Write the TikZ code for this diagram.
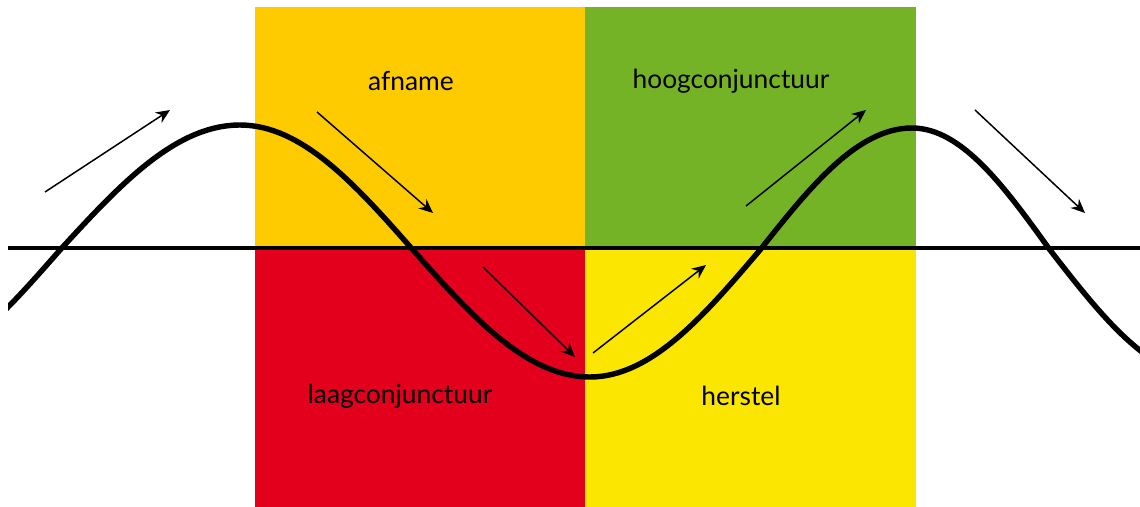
\documentclass[tikz,border=0pt]{standalone}
\usepackage{fontspec}
\setmainfont{Lato}
\usetikzlibrary{arrows.meta}

\definecolor{afnamecol}{HTML}{FDCB00}
\definecolor{hoogcol}{HTML}{74B325}
\definecolor{laagcol}{HTML}{E2001D}
\definecolor{herstelcol}{HTML}{FAE600}

\begin{document}
\begin{tikzpicture}[
        x=0.02cm, y=-0.02cm, % one unit is one pixel
        ->, % Arrow style
        >={Stealth[length=8pt,width=7pt]}, % arrow head style
        line width=0.85pt
      ]

      \tikzstyle{phase}=[font=\fontsize{15}{18}\selectfont, text=black]
      \tikzstyle{wave}=[-, line width=3.1pt, line join=round]
      \tikzstyle{axis}=[-, line width=2.2pt]

      \useasboundingbox (0,0) rectangle (1140,507);

      % the four phases
      \fill[afnamecol] (255,7) rectangle (585,248);
      \fill[hoogcol] (585,7) rectangle (916,248);
      \fill[laagcol] (255,248) rectangle (585,507);
      \fill[herstelcol] (585,248) rectangle (916,507);

      \node[phase] (afn) at (411,81) {afname};
      \node[phase] (hoog) at (731,81) {hoogconjunctuur};
      \node[phase] (laag) at (400,396) {laagconjunctuur};
      \node[phase] (her) at (741,396) {herstel};

      % axis and wave
      \coordinate (al) at (8,248);
      \coordinate (ar) at (1140,248);
      \draw[axis] (al) -- (ar);

      \begin{scope}
        \clip (8,0) rectangle (1140,507);
        \draw[wave] (-115,377) cos (60,250) sin (240,125) cos (413,250)
          sin (590,377) cos (760,250) sin (912,128) cos (1050,250) sin (1205,377);
      \end{scope}

      % direction arrows
      \coordinate (s1) at (45,192);   \coordinate (e1) at (170,110);
      \coordinate (s2) at (317,112);  \coordinate (e2) at (433,213);
      \coordinate (s3) at (483,267);  \coordinate (e3) at (575,357);
      \coordinate (s4) at (593,353);  \coordinate (e4) at (706,265);
      \coordinate (s5) at (746,206);  \coordinate (e5) at (866,110);
      \coordinate (s6) at (975,110);  \coordinate (e6) at (1085,213);

      \draw (s1) -- (e1);
      \draw (s2) -- (e2);
      \draw (s3) -- (e3);
      \draw (s4) -- (e4);
      \draw (s5) -- (e5);
      \draw (s6) -- (e6);

    \end{tikzpicture}
\end{document}
